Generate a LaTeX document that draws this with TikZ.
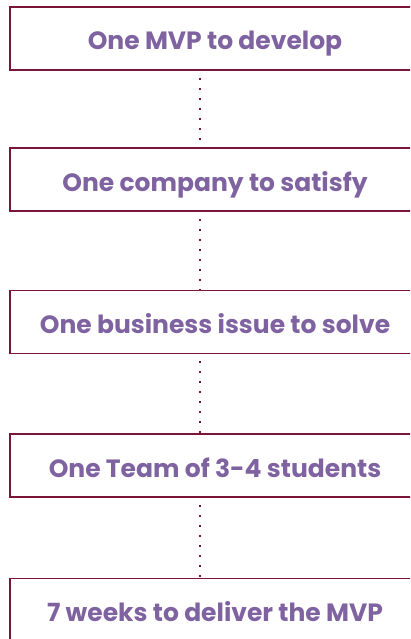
\documentclass[tikz,border=0pt]{standalone}
\usepackage{fontspec}
\setmainfont{Poppins}
\definecolor{boxline}{HTML}{7A1538}
\definecolor{labeltext}{HTML}{7F63A1}
\begin{document}
\begin{tikzpicture}[x=1pt,y=-1pt,
  stagebox/.style={draw=boxline, line width=1.5pt, fill=white,
    minimum width=410pt, minimum height=63pt, inner sep=0pt,
    text height=23pt, text depth=0pt,
    font=\fontsize{25}{28}\selectfont\bfseries, text=labeltext},
  dotlink/.style={draw=boxline, line width=1.9pt,
    dash pattern=on 1.9pt off 8.1pt, dash phase=3pt}]
  \useasboundingbox (0,0) rectangle (410,639);
  \begin{scope}
    \clip (0,0) rectangle (410,639);
    \node[stagebox] (s1) at (215,38.5) {One MVP to develop};
    \node[stagebox] (s2) at (215,179.5) {One company to satisfy};
    \node[stagebox] (s3) at (215,322) {One business issue to solve};
    \node[stagebox] (s4) at (215,465.5) {One Team of 3-4 students};
    \node[stagebox] (s5) at (215,610) {7 weeks to deliver the MVP};
    \foreach \a/\b in {s1/s2, s2/s3, s3/s4, s4/s5}
      \draw[dotlink] ([xshift=-15pt]\a.south) -- ([xshift=-15pt]\b.north);
  \end{scope}
\end{tikzpicture}
\end{document}
